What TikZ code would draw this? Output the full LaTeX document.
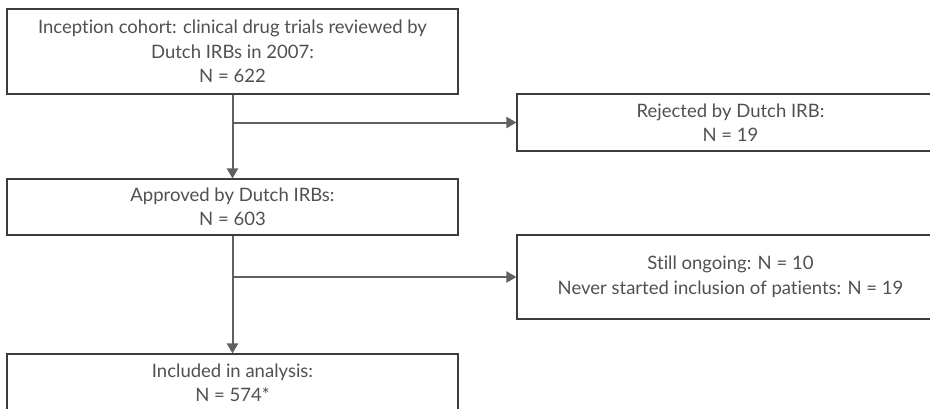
\documentclass[tikz,border=0pt]{standalone}
\usepackage{fontspec}
\setmainfont{Lato}[Ligatures=NoCommon]
\usetikzlibrary{arrows.meta}
\definecolor{boxline}{HTML}{3C3C3C}
\definecolor{flowline}{HTML}{606060}
\definecolor{txt}{HTML}{505050}
\tikzset{
  stage/.style={draw=boxline, line width=1.1pt, align=center, text=txt,
    font=\fontsize{18.5pt}{24.5pt}\selectfont, inner sep=0pt},
  flow/.style={draw=flowline, line width=2pt,
    -{Triangle[length=10pt,width=11pt]}, shorten >=0pt},
}
\begin{document}
\begin{tikzpicture}[x=1pt,y=-1pt]
\useasboundingbox (0,0) rectangle (930,408);
\clip (0,0) rectangle (930,408);
% main column
\node[stage, minimum width=451pt, minimum height=85pt] (cohort) at (232.5,51.5)
  {Inception cohort: clinical drug trials reviewed by\\Dutch IRBs in 2007:\\N = 622};
\node[stage, minimum width=451pt, minimum height=56pt] (approved) at (232.5,207)
  {Approved by Dutch IRBs:\\N = 603};
\node[stage, minimum width=451pt, minimum height=58pt] (included) at (232.5,383)
  {Included in analysis:\\N = 574*};
% exclusions on the right
\node[stage, minimum width=427pt, minimum height=57pt] (rejected) at (730.5,122.5)
  {Rejected by Dutch IRB:\\N = 19};
\node[stage, minimum width=427pt, minimum height=84pt] (ongoing) at (730.5,277)
  {Still ongoing: N = 10\\Never started inclusion of patients: N = 19};
% connectors
\coordinate (split1) at (cohort.south |- rejected.west);
\coordinate (split2) at (approved.south |- ongoing.west);
\draw[flow] (cohort.south) -- (approved.north);
\draw[flow] (split1) -- (rejected.west);
\draw[flow] (approved.south) -- (included.north);
\draw[flow] (split2) -- (ongoing.west);
\end{tikzpicture}
\end{document}
